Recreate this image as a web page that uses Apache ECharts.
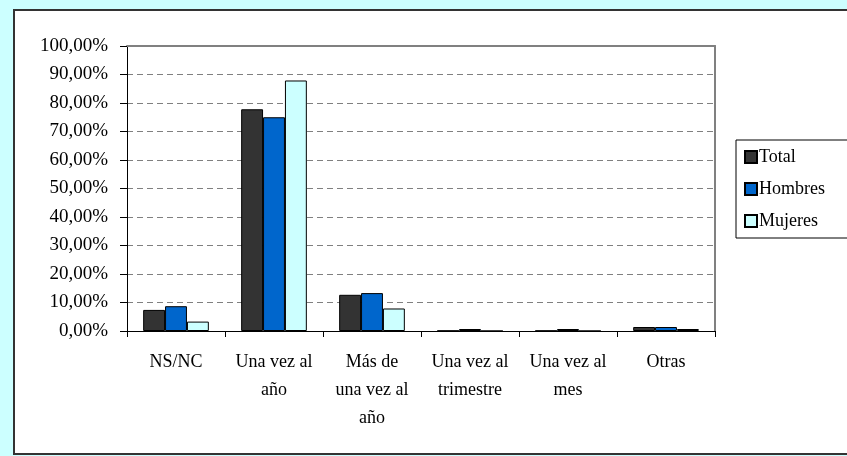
<!DOCTYPE html>
<html>
<head>
<meta charset="utf-8">
<script src="https://cdn.jsdelivr.net/npm/echarts@6/dist/echarts.min.js"></script>
<style>
  html, body { margin: 0; padding: 0; background: #ccffff; }
  #chart { width: 847px; height: 456px; }
</style>
</head>
<body>
<div id="chart"></div>
<script>
// frecuencia - valores en %
const categories = ['NS/NC', 'Una vez al\naño', 'Más de\nuna vez al\naño', 'Una vez al\ntrimestre', 'Una vez al\nmes', 'Otras'];
const seriesNames = ['Total', 'Hombres', 'Mujeres'];
const total = [7.4, 77.8, 12.7, 0.1, 0.1, 1.4];
const hombres = [8.7, 75.0, 13.3, 0.7, 0.7, 1.4];
const mujeres = [3.3, 87.9, 7.9, 0, 0, 0.7];
const colors = ['#333333', '#0066cc', '#ccffff'];

const font = "'Liberation Serif', 'Times New Roman', serif";

const chart = echarts.init(document.getElementById('chart'));

const mkSeries = (name, data, i) => ({
  name: name,
  type: 'bar',
  data: data,
  barGap: '0%',
  barCategoryGap: '33%',
  itemStyle: { color: colors[i], borderColor: '#000', borderWidth: 1 },
  animation: false
});

// gray frame on top / right of the plot area
const frameLine = { show: true, onZero: false, lineStyle: { color: '#808080', width: 2 } };

const option = {
  backgroundColor: '#ccffff',
  textStyle: { fontFamily: font },
  graphic: [{
    type: 'rect',
    z: 0,
    shape: { x: 14, y: 10, width: 900, height: 444 },
    style: { fill: '#ffffff', stroke: '#333333', lineWidth: 2 }
  }],
  grid: {
    left: 127, top: 46, right: 132, bottom: 125,
    show: true,
    backgroundColor: '#ffffcc',
    borderWidth: 0
  },
  legend: {
    orient: 'vertical',
    left: 736, top: 140,
    padding: [7, 31, 7, 8],
    itemGap: 12,
    itemWidth: 12, itemHeight: 12,
    backgroundColor: '#ffffff',
    borderColor: '#000',
    borderWidth: 1,
    icon: 'rect',
    textStyle: { fontFamily: font, fontSize: 18, color: '#000', lineHeight: 20, padding: [0, 0, 0, -3] },
    data: seriesNames
  },
  xAxis: [{
    type: 'category',
    data: categories,
    axisLine: { onZero: false, lineStyle: { color: '#000', width: 1 } },
    axisTick: { show: true, length: 6, lineStyle: { color: '#000' } },
    axisLabel: {
      interval: 0,
      margin: 17,
      fontFamily: font,
      fontSize: 18,
      lineHeight: 28,
      color: '#000'
    }
  }, {
    type: 'category',
    position: 'top',
    data: categories,
    axisLine: frameLine,
    axisTick: { show: false },
    axisLabel: { show: false }
  }],
  yAxis: [{
    type: 'value',
    min: 0, max: 100, interval: 10,
    axisLine: { show: true, onZero: false, lineStyle: { color: '#000', width: 1 } },
    axisTick: { show: true, length: 7, lineStyle: { color: '#000' } },
    axisLabel: {
      margin: 19,
      fontFamily: font,
      fontSize: 19,
      color: '#000',
      formatter: (v) => v.toFixed(2).replace('.', ',') + '%'
    },
    splitLine: { show: true, lineStyle: { color: '#808080', type: [6, 4], width: 1 } }
  }, {
    type: 'value',
    position: 'right',
    min: 0, max: 100, interval: 10,
    axisLine: frameLine,
    axisTick: { show: false },
    axisLabel: { show: false },
    splitLine: { show: false }
  }],
  series: [
    mkSeries(seriesNames[0], total, 0),
    mkSeries(seriesNames[1], hombres, 1),
    mkSeries(seriesNames[2], mujeres, 2)
  ]
};
chart.setOption(option);
</script>
</body>
</html>
